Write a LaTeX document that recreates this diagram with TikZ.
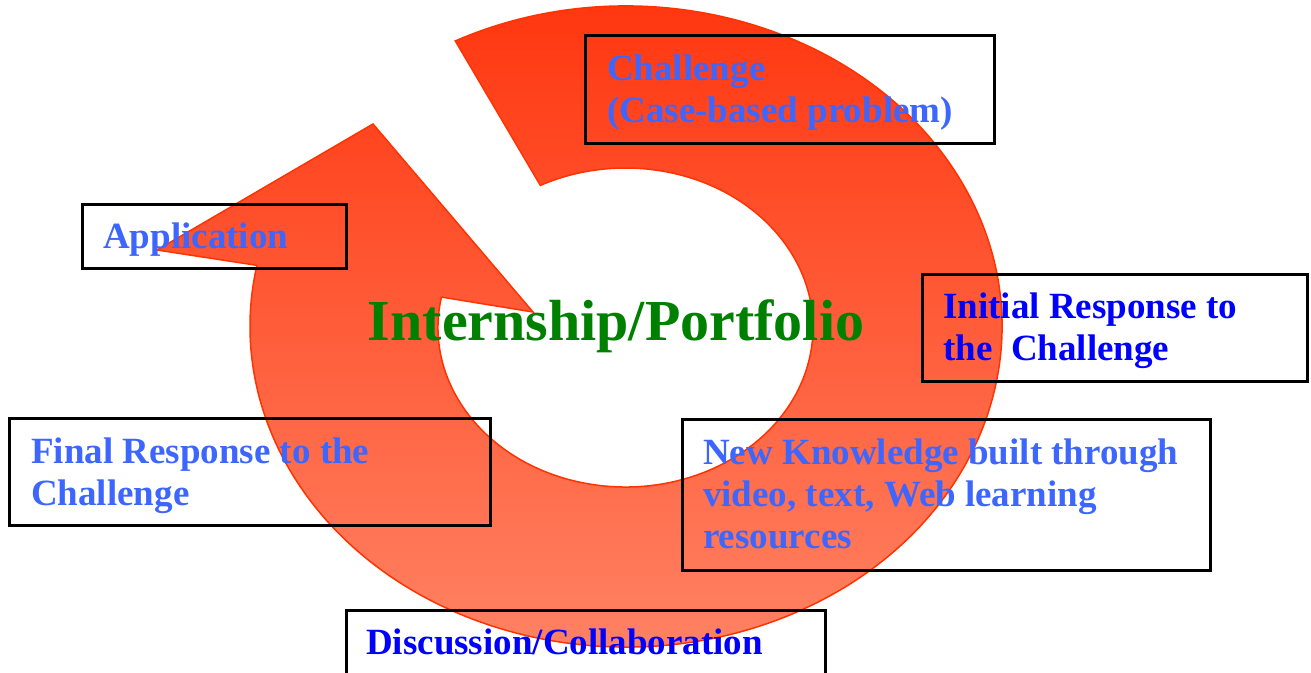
\documentclass[tikz,border=0pt]{standalone}
\usepackage{fontspec}
\setmainfont{Liberation Serif}
\usetikzlibrary{calc}

\definecolor{ringtop}{RGB}{255,50,10}
\definecolor{ringbot}{RGB}{255,135,105}
\definecolor{ringedge}{RGB}{255,51,0}
\definecolor{lightblue}{RGB}{61,102,255}
\definecolor{deepblue}{RGB}{0,0,255}
\definecolor{titlegreen}{RGB}{0,128,0}

\tikzset{
  ringshape/.style={top color=ringtop, bottom color=ringbot, draw=ringedge, line width=1.5pt, line join=miter},
  framebox/.style={draw=black, line width=2.8pt, rectangle, inner sep=0pt, anchor=north west},
  % anchor sits on the baseline of the last line of a label
  boxtext/.style={anchor=base west, align=left, inner sep=0pt,
    font=\fontsize{37}{42}\selectfont\bfseries, text=lightblue},
  boxtextdeep/.style={boxtext, text=deepblue},
}

\begin{document}
\begin{tikzpicture}[x=1pt, y=-1pt]
  \useasboundingbox (0,0) rectangle (1311,672);
  \clip (0,0) rectangle (1311,672);

  % circular arrow: outer rim clockwise, arrow head, inner rim back to the tail
  \path[ringshape]
    ({626+376*cos(243)},{326.5+320.5*sin(243)})
      arc[start angle=243, end angle=551, x radius=376, y radius=320.5]
    -- (157,250) -- (373,124) -- (533,312)
    -- ({625.5+187.5*cos(551)},{327.5+159.5*sin(551)})
      arc[start angle=551, end angle=243, x radius=187.5, y radius=159.5]
    -- cycle;

  % frames
  \node[framebox, minimum width=409, minimum height=108] (chbox)  at (584,34)  {};
  \node[framebox, minimum width=264, minimum height=64]  (apbox)  at (81,203)  {};
  \node[framebox, minimum width=385, minimum height=107] (inbox)  at (921,273) {};
  \node[framebox, minimum width=481, minimum height=107] (fibox)  at (8,417)   {};
  \node[framebox, minimum width=528, minimum height=151] (nkbox)  at (681,418) {};
  \node[framebox, minimum width=479, minimum height=90]  (dcbox)  at (345,609) {};

  % labels
  \node[boxtext] (chtext) at ($(chbox.north west)+(23,88)$) {Challenge\\(Case-based problem)};
  \node[boxtext] (aptext) at ($(apbox.north west)+(22,45)$) {Application};
  \node[boxtextdeep] (intext) at ($(inbox.north west)+(22,87)$) {Initial Response to\\the\ \ Challenge};
  \node[boxtext] (fitext) at ($(fibox.north west)+(23,88)$) {Final Response to the\\Challenge};
  \node[boxtext] (nktext) at ($(nkbox.north west)+(22,130)$) {New Knowledge built through\\video, text, Web learning\\resources};
  \node[boxtextdeep] (dctext) at ($(dcbox.north west)+(21,45)$) {Discussion/Collaboration};

  \node[anchor=base, inner sep=0pt, font=\fontsize{58}{60}\selectfont\bfseries, text=titlegreen]
    (title) at (616,340) {Internship/Portfolio};
\end{tikzpicture}
\end{document}
